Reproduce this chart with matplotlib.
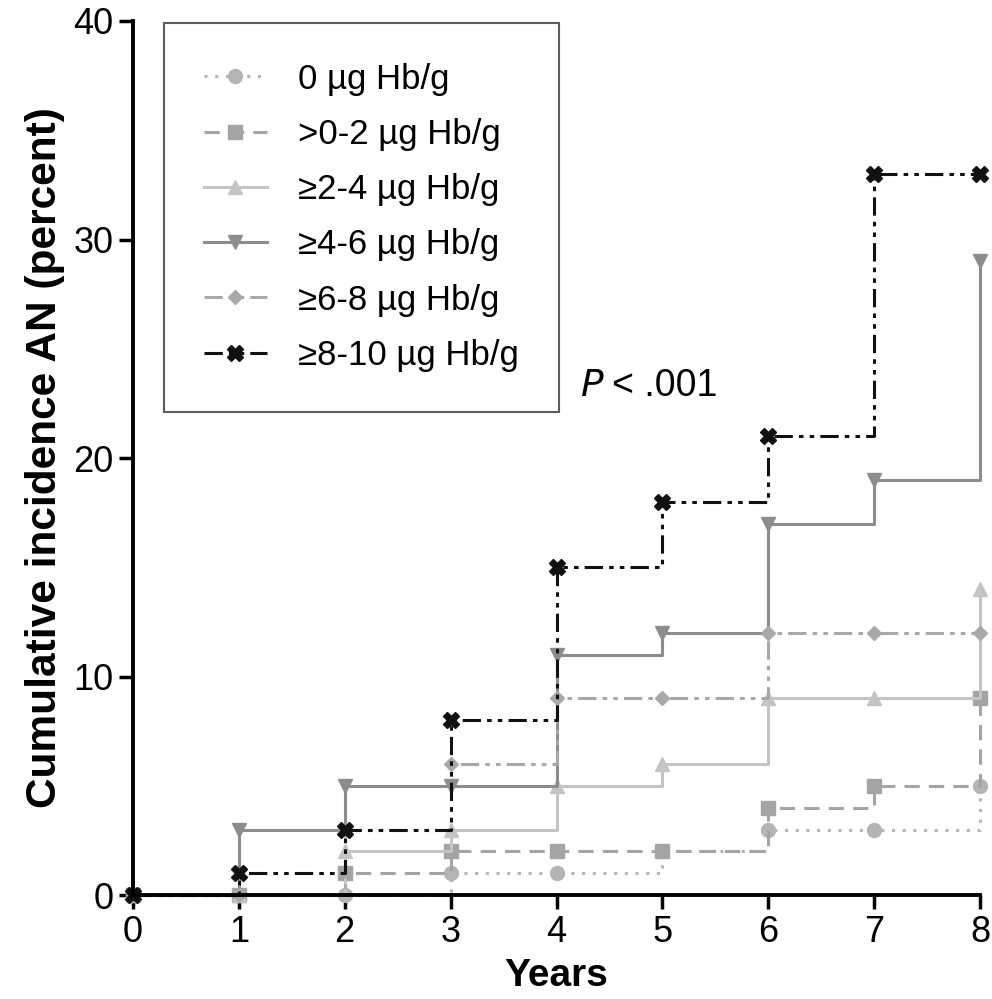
import matplotlib
matplotlib.use("Agg")
import matplotlib.pyplot as plt
from matplotlib import font_manager

years = [0, 1, 2, 3, 4, 5, 6, 7, 8]
labels = [
    "0 µg Hb/g",
    ">0-2 µg Hb/g",
    "≥2-4 µg Hb/g",
    "≥4-6 µg Hb/g",
    "≥6-8 µg Hb/g",
    "≥8-10 µg Hb/g",
]
inc_0 = [0, 0, 0, 1, 1, 2, 3, 3, 5]
inc_0_2 = [0, 0, 1, 2, 2, 2, 4, 5, 9]
inc_2_4 = [0, 0, 2, 3, 5, 6, 9, 9, 14]
inc_4_6 = [0, 3, 5, 5, 11, 12, 17, 19, 29]
inc_6_8 = [0, 0, 3, 6, 9, 9, 12, 12, 12]
inc_8_10 = [0, 1, 3, 8, 15, 18, 21, 33, 33]

series = [inc_0, inc_0_2, inc_2_4, inc_4_6, inc_6_8, inc_8_10]
colors = ["#b4b4b4", "#a4a4a4", "#c4c4c4", "#8c8c8c", "#a8a8a8", "#111111"]
markers = ["o", "s", "^", "v", "D", "X"]
msizes = [10, 10, 10, 10, 7, 12]
dashdotdot = (0, (6, 2, 1.5, 2, 1.5, 2))
styles = [(0, (1, 2.5)), (0, (5, 3)), "-", "-", dashdotdot, dashdotdot]

narrow = "Liberation Sans Narrow"
names = {f.name for f in font_manager.fontManager.ttflist}
if narrow not in names:
    narrow = "Liberation Sans"
plt.rcParams["font.family"] = ["Liberation Sans", "DejaVu Sans"]

fig = plt.figure(figsize=(9.92, 9.99), dpi=100)
ax = fig.add_axes([0.134, 0.104, 0.854, 0.875])

for ys, lab, c, m, ms, ls in zip(series, labels, colors, markers, msizes, styles):
    ax.step(years, ys, where="post", color=c, linestyle=ls, linewidth=2.2,
            marker=m, markersize=ms, markeredgecolor=c, markerfacecolor=c,
            label=lab, clip_on=False)

ax.set_xlim(0, 8)
ax.set_ylim(0, 40)
ax.set_xticks(range(0, 9))
ax.set_yticks([0, 10, 20, 30, 40])
ax.tick_params(direction="out", length=10, width=2.5, labelsize=26, pad=4)
for s in ["top", "right"]:
    ax.spines[s].set_visible(False)
for s in ["left", "bottom"]:
    ax.spines[s].set_linewidth(2.8)

ax.set_xlabel("Years", fontsize=28, fontweight="bold", family=[narrow, "DejaVu Sans"], labelpad=6)
ax.set_ylabel("Cumulative incidence AN (percent)", fontsize=30.5, fontweight="bold",
              family=[narrow, "DejaVu Sans"], labelpad=6)

ax.text(4.22, 23.3, r"$P$", fontsize=27, ha="left", va="center", style="italic")
ax.text(4.52, 23.3, "< .001", fontsize=27, ha="left", va="center")

leg = ax.legend(loc="upper left", bbox_to_anchor=(0.035, 1.0), fontsize=25,
                frameon=True, fancybox=False, edgecolor="#333333",
                handlelength=1.8, labelspacing=0.64, borderpad=1.15,
                handletextpad=0.9, borderaxespad=0.05)
leg.get_frame().set_linewidth(1.5)

fig.savefig("out.png", dpi=100)
